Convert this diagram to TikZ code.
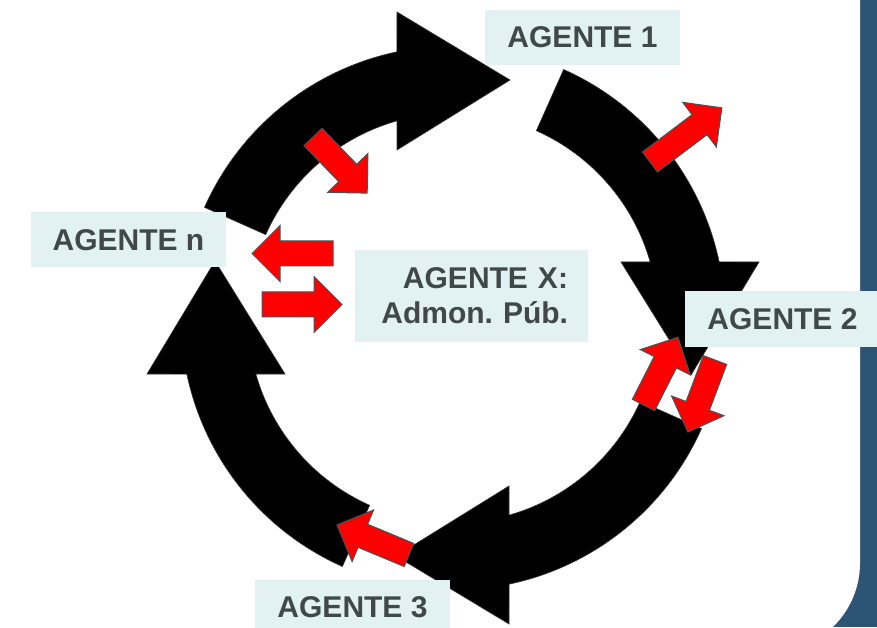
\documentclass[tikz,border=0pt]{standalone}
\usepackage{fontspec}
\setmainfont{Liberation Sans}

\definecolor{marco}{RGB}{45,83,117}
\definecolor{caja}{RGB}{226,242,242}
\definecolor{letra}{RGB}{64,72,72}
\definecolor{borde}{RGB}{70,85,90}

% red block arrow: tail point, direction, length
\newcommand{\flecharoja}[3]{%
  \filldraw[rojo, shift={#1}, rotate=#2]
    (0,-12.5) -- ({#3-28},-12.5) -- ({#3-28},-28) -- (#3,0)
    -- ({#3-28},28) -- ({#3-28},12.5) -- (0,12.5) -- cycle;}

\begin{document}
\begin{tikzpicture}[x=1pt,y=1pt,
  agente/.style={fill=caja, text=letra, inner sep=0pt,
    font=\fontsize{30}{35}\selectfont\bfseries,
    minimum width=195pt, minimum height=55pt},
  ciclo/.style={fill=black, draw=black!80, line width=0.6pt},
  rojo/.style={fill=red, draw=borde, line width=1pt}]

\useasboundingbox (0,0) rectangle (877,627);
\clip (0,0) rectangle (877,627);

% frame on the right
\fill[marco] (780,0) rectangle (877,627);
\fill[white] (0,627) -- (860,627) -- (860,64)
  arc[start angle=0, end angle=-90, radius=89] -- (0,-25) -- cycle;

% the four black arrows of the cycle
\foreach \giro in {0,-90,-180,-270}
  \filldraw[ciclo, shift={(453,309)}, rotate=\giro]
    (156:272) arc[start angle=156, end angle=101.9, radius=272]
    -- (-56,306) -- (57,238) -- (-56,168) -- (-56,197.2)
    arc[start angle=105.85, end angle=156, radius=205] -- cycle;

% red arrows
\flecharoja{(313,490)}{-46}{78}
\flecharoja{(333,373.5)}{180}{81}
\flecharoja{(262,322.5)}{0}{80}
\flecharoja{(650,465)}{37}{90}
\flecharoja{(643.5,222)}{63}{76}
\flecharoja{(715,267)}{-110.6}{77}
\flecharoja{(409,72)}{157.4}{78}

% agents
\node[agente] (a1) at (582.5,589.5) {AGENTE 1};
\node[agente] (a2) at (782.5,308) {AGENTE 2};
\node[agente] (a3) at (352.5,19.5) {AGENTE 3};
\node[agente] (an) at (128.5,387) {AGENTE n};
\node[agente, text width=193pt, inner xsep=20pt, align=right,
  minimum height=92pt] (ax) at (471.5,331) {AGENTE X:\\Admon.\ Púb.};

\end{tikzpicture}
\end{document}
